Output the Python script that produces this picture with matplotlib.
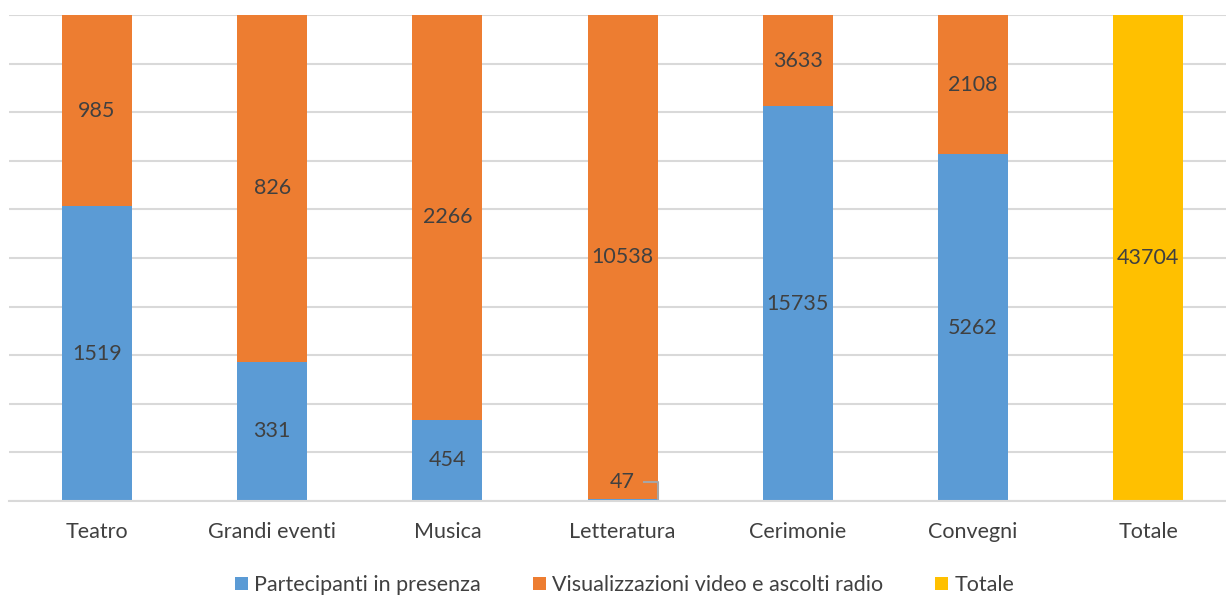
import numpy as np
import matplotlib.pyplot as plt

plt.rcParams['font.family'] = ['Lato', 'DejaVu Sans']

# data
categorie = ["Teatro", "Grandi eventi", "Musica", "Letteratura", "Cerimonie", "Convegni", "Totale"]
presenza = [1519, 331, 454, 47, 15735, 5262, 0]
visualizzazioni = [985, 826, 2266, 10538, 3633, 2108, 0]
totale = [0, 0, 0, 0, 0, 0, 43704]

blue = '#5B9BD5'
orange = '#ED7D31'
yellow = '#FFC000'
txt = '#404040'
fs = 15.5

pres = np.array(presenza, dtype=float)
vis = np.array(visualizzazioni, dtype=float)
tot = np.array(totale, dtype=float)
somma = pres + vis + tot
p_pct = pres / somma * 100
v_pct = vis / somma * 100
t_pct = tot / somma * 100

fig = plt.figure(figsize=(12.26, 5.97), dpi=100)
ax = fig.add_axes([9.4 / 1226, 1 - 501 / 597, 1226.4 / 1226, 486 / 597])

x = np.arange(len(categorie))
w = 0.4
ax.bar(x, p_pct, w, color=blue, label="Partecipanti in presenza", zorder=2)
ax.bar(x, v_pct, w, bottom=p_pct, color=orange, label="Visualizzazioni video e ascolti radio", zorder=2)
ax.bar(x, t_pct, w, bottom=p_pct + v_pct, color=yellow, label="Totale", zorder=2)

for i in range(len(categorie)):
    if pres[i] > 0:
        if p_pct[i] < 2:
            # small segment: label sits above with a leader line
            ax.text(x[i], 4, str(presenza[i]), ha='center', va='center', fontsize=fs, color=txt, zorder=3)
            ax.plot([x[i] + 0.12, x[i] + 0.2, x[i] + 0.2], [4, 4, p_pct[i]], color='#a6a6a6',
                    lw=1.5, zorder=4, clip_on=False)
        else:
            ax.text(x[i], p_pct[i] / 2, str(presenza[i]), ha='center', va='center', fontsize=fs, color=txt, zorder=3)
    if vis[i] > 0:
        ax.text(x[i], p_pct[i] + v_pct[i] / 2, str(visualizzazioni[i]), ha='center', va='center', fontsize=fs, color=txt, zorder=3)
    if tot[i] > 0:
        ax.text(x[i], t_pct[i] / 2, str(totale[i]), ha='center', va='center', fontsize=fs, color=txt, zorder=3)

ax.set_xlim(-0.5, len(categorie) - 0.5)
ax.set_ylim(0, 100)
ax.set_yticks(np.arange(0, 101, 10))
ax.set_yticklabels([])
ax.tick_params(axis='y', length=0)
ax.tick_params(axis='x', length=0, labelsize=fs, labelcolor=txt, pad=15)
ax.set_xticks(x)
ax.set_xticklabels(categorie)
ax.grid(axis='y', color='#d9d9d9', lw=1.5, zorder=0)
for s in ['top', 'right', 'left']:
    ax.spines[s].set_visible(False)
ax.spines['bottom'].set_color('#d9d9d9')
ax.spines['bottom'].set_linewidth(1.5)

fig.legend(loc='center', bbox_to_anchor=(624.5 / 1226, 1 - 585 / 597), ncol=3, frameon=False,
           fontsize=fs, labelcolor=txt, handlelength=0.6, handleheight=0.6,
           handletextpad=0.3, columnspacing=2.4)

fig.savefig('out.png', dpi=100)
